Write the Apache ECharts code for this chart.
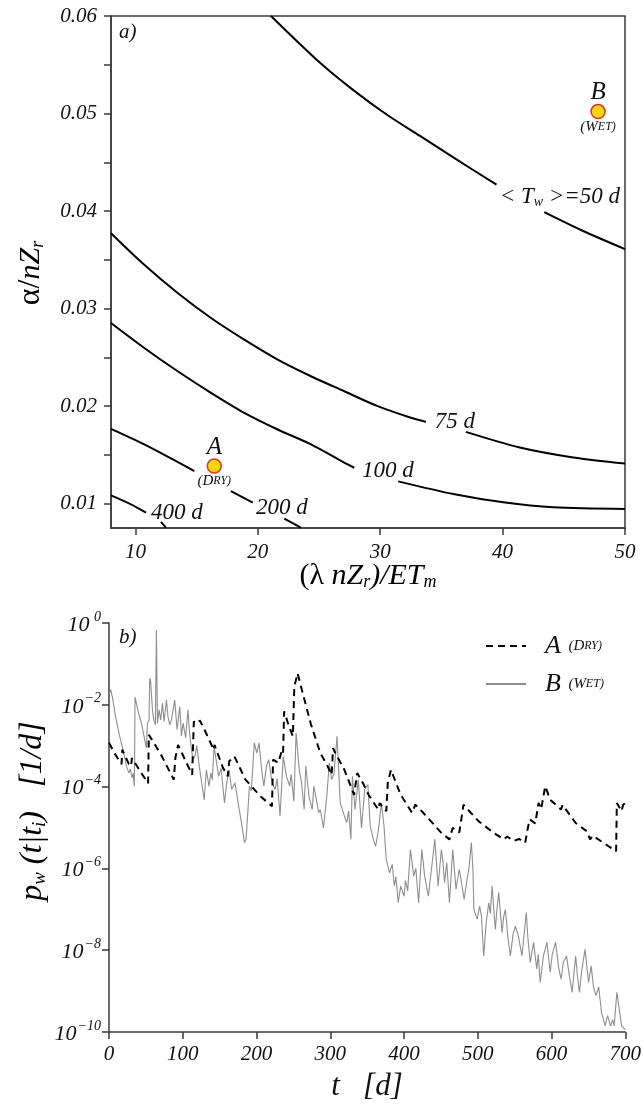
<!DOCTYPE html>
<html><head><meta charset="utf-8">
<script src="https://cdn.jsdelivr.net/npm/echarts@6/dist/echarts.min.js"></script>
<style>html,body{margin:0;padding:0;background:#fff}#c{width:644px;height:1104px}</style>
</head><body><div id="c"></div>
<script>
// ---------- Panel a) data ----------
const xTicksA = [10, 20, 30, 40, 50];
const yLabelsA = [0.01, 0.02, 0.03, 0.04, 0.05, 0.06];
const yTicksA = [0.01, 0.015, 0.02, 0.025, 0.03, 0.035, 0.04, 0.045, 0.05, 0.055, 0.06];
// contour lines of <Tw>, split into segments where labels sit
const contour50 = [
  [[21.07, 0.0600], [25.08, 0.0552], [27.8, 0.0524], [30.52, 0.0499], [33.25, 0.0477], [35.97, 0.0455], [39.5, 0.0427]],
  [[43.4, 0.0399], [46.86, 0.0378], [50.0, 0.0361]]
];
const contour75 = [
  [[8.0, 0.03773], [10.72, 0.03449], [13.45, 0.03159], [16.17, 0.02903], [18.89, 0.02681], [21.62, 0.02477],
   [24.34, 0.02306], [27.06, 0.02152], [29.79, 0.01999], [32.51, 0.0188], [33.74, 0.01838]],
  [[37.0, 0.01736], [41.4, 0.01576], [45.77, 0.01474], [50.0, 0.01412]]
];
const contour100 = [
  [[8.0, 0.02852], [10.72, 0.02596], [13.45, 0.02357], [16.17, 0.02136], [18.89, 0.01931], [21.62, 0.0176],
   [24.34, 0.01607], [27.06, 0.0142], [27.88, 0.01368]],
  [[31.47, 0.01228], [35.97, 0.01098], [40.06, 0.01013], [44.14, 0.00962], [50.0, 0.00945]]
];
const contour200 = [
  [[8.0, 0.01767], [10.72, 0.01607], [14.81, 0.01334]],
  [[17.8, 0.01129], [19.58, 0.0101]],
  [[22.16, 0.00846], [23.52, 0.00754]]
];
const contour400 = [
  [[8.0, 0.01085], [9.63, 0.00993], [10.86, 0.00908]],
  [[12.08, 0.00812], [12.49, 0.00754]]
];
const contourLabels = [
  [44.68, 0.04145, '{t|< T}{s|w}{t| >=50 d}'],
  [36.1, 0.01842, '{t|75 d}'],
  [30.63, 0.01331, '{t|100 d}'],
  [21.97, 0.00959, '{t|200 d}'],
  [13.39, 0.00908, '{t|400 d}']
];
const sitePoints = [
  [16.44, 0.01385, 'A', 'D', 'RY'],
  [47.8, 0.0502, 'B', 'W', 'ET']
];

// ---------- Panel b) data ----------
const xTicksB = [0, 100, 200, 300, 400, 500, 600, 700];
const yTicksB = [1e-10, 1e-8, 1e-6, 1e-4, 1e-2, 1];
// [t (days), log10 p_w]
const logSeriesA = [
  [0, -2.93], [8, -3.2], [17, -3.45], [18, -3.1], [27, -3.45], [30, -3.5], [31, -3.3], [45, -3.7], [53, -3.92],
  [54, -2.73], [70, -3.2], [87.8, -3.83], [90, -3.3], [93.6, -2.98], [112.8, -3.71], [115, -2.41], [121, -2.45],
  [123, -2.38], [128, -2.55], [142, -3.1], [143, -2.98], [154.5, -3.54], [161, -3.75], [163, -3.38], [170, -3.26],
  [185, -3.83], [205.6, -4.24], [221, -4.48], [222.5, -3.34], [229.7, -3.42], [234, -3.14], [236, -3.2],
  [237.5, -2.16], [242.7, -2.45], [249.3, -2.77], [251.3, -1.55], [255.7, -1.23], [260.3, -1.55], [273.4, -2.45],
  [286.5, -3.18], [295.3, -3.46], [301.8, -3.71], [303.9, -3.06], [306, -3.15], [319.2, -3.59], [332.3, -4.2],
  [336.6, -3.67], [345.4, -3.95], [352, -4.2], [365, -4.56], [367, -4.4], [371, -4.5], [376, -4.6], [378, -3.91],
  [382.3, -3.59], [395.5, -4.2], [411, -4.64], [415.3, -4.44], [422, -4.56], [450.7, -5.13], [461.6, -5.29],
  [466, -5.01], [475, -5.12], [480.7, -4.44], [490.5, -4.64], [501.4, -4.85], [521.6, -5.13], [535.1, -5.29],
  [540, -5.22], [548.6, -5.33], [556, -5.28], [564.4, -5.37], [567.5, -5.05], [570.3, -4.8], [578, -4.9],
  [582.4, -4.4], [586, -4.55], [591.5, -3.99], [598.2, -4.32], [613, -4.56], [615, -4.45], [632.8, -4.89],
  [647.8, -5.09], [652.3, -5.29], [656, -5.2], [677.6, -5.46], [687.6, -5.58], [688.6, -4.4], [695, -4.6],
  [697, -4.45], [700, -4.4]
];
const logSeriesB = [
  [0, -1.76], [2.3, -1.63], [4.6, -1.81], [9, -2.3], [14.5, -2.77], [19, -3.1], [23.6, -3.5], [27.1, -3.67], [29, -3.57], [31.2, -3.79],
  [32.6, -3.67], [34.4, -3.99], [35.3, -1.81], [40, -2.2], [44, -2.45], [50.7, -3.06], [52.1, -2.45], [54.3, -2.37],
  [55.2, -1.35], [56.5, -1.43], [58.9, -2.12], [60.7, -2.37], [62.9, -2.49], [64.3, -0.17], [65.7, -2.45],
  [67.9, -2.12], [70.1, -2.37], [72.5, -1.96], [74.6, -2.41], [77.9, -1.88], [80, -2.3], [82.4, -2.49], [84.6, -2.37],
  [89.1, -1.88], [92.3, -2.61], [96, -2.04], [98.2, -2.77], [100.4, -2.45], [104, -2.81], [107, -2.12],
  [109.2, -2.69], [113.6, -3.34], [116.5, -3.26], [119, -3.0], [122.4, -3.5], [129, -4.32], [132, -3.59], [135.5, -3.99],
  [138.2, -3.67], [140, -3.83], [142.5, -3.02], [148.7, -3.75], [152, -3.55], [156.6, -4.4], [159.6, -3.91], [162.8, -3.59],
  [166.2, -4.07], [170.7, -3.91], [177, -4.6], [183.8, -5.37], [185.9, -5.29], [190.4, -3.99], [193, -4.1], [197, -2.93],
  [200.4, -3.18], [203.5, -2.93], [207, -3.6], [210, -3.99], [213.5, -3.5], [216.6, -3.34], [221, -3.9], [225.3, -4.07],
  [228, -3.8], [231.9, -4.72], [236.3, -3.26], [240.6, -3.75], [245, -3.99], [247, -3.7], [250.7, -4.36], [253.7, -2.69], [258, -3.59],
  [261, -3.9], [264.6, -4.56], [266.8, -3.5], [271.2, -4.24], [275.6, -4.56], [277.7, -3.99], [281, -4.3], [284.3, -4.64], [286.5, -4.56],
  [290.8, -5.01], [295.3, -4.24], [298.7, -3.42], [301.8, -3.83], [305, -3.7], [309.2, -2.77], [313.6, -4.4],
  [319.2, -4.72], [322.3, -4.88], [325, -4.6], [328, -5.29], [330.1, -3.75], [333.6, -4.56], [338, -3.83], [342.4, -5.01],
  [346.7, -4.07], [351, -3.95], [354.2, -4.97], [358.5, -5.29], [361.5, -5.46], [365, -5.1], [369.4, -4.4],
  [372.9, -4.97], [375.9, -5.78], [380.4, -6.11], [384, -5.9], [386.9, -6.43], [389, -6.2], [392.2, -6.84], [395.5, -6.43], [400, -6.68],
  [402, -6.3], [405, -6.55], [408.7, -5.54], [413.2, -6.19], [416, -6.0], [419.8, -6.84], [424.2, -5.54], [428, -6.19],
  [433, -6.68], [438, -5.9], [441.8, -5.29], [446.2, -6.43], [450.7, -5.54], [452.9, -5.86], [455, -6.35],
  [458, -5.86], [461.6, -6.84], [466.1, -5.54], [470.5, -6.51], [474.9, -6.02], [478, -6.35], [481.5, -6.76],
  [485.5, -6.27], [488, -6.02], [491.3, -5.37], [493.5, -6.02], [494.7, -7.0], [499.2, -7.24], [502.5, -6.92],
  [505, -7.16], [508.1, -8.14], [511.5, -7.32], [514.9, -6.84], [517, -7.1], [519.5, -6.43], [521.7, -7.0], [523.9, -7.49],
  [526, -7.0], [528.4, -6.59], [533, -7.57], [535, -7.2], [537.4, -7.0], [541, -7.7], [544.2, -8.14], [548, -7.6], [551, -7.41], [555, -7.65], [560, -8.14],
  [565.8, -7.08], [568, -7.7], [571.2, -8.3], [575.7, -7.81], [580, -8.46], [582, -8.1], [584.7, -8.79], [589, -8.14], [593.8, -7.81],
  [598.2, -8.54], [601, -8.1], [605.5, -7.81], [610, -8.46], [613, -8.71], [616, -8.3], [620.4, -8.14], [624, -8.6], [627.9, -9.03], [632.8, -8.14],
  [635, -8.6], [637.9, -9.03], [641, -8.5], [645.4, -7.98], [650.3, -8.79], [653.7, -8.38], [657, -8.9], [660.3, -9.11], [664, -8.9], [667.8, -9.52], [672.7, -9.85],
  [676, -9.6], [680.1, -9.85], [683, -9.7], [685, -9.85], [688.6, -9.03], [695, -9.85], [700, -9.94]
];

// ---------- build ----------
const FONT = "'Liberation Serif', 'DejaVu Serif', serif";
const AX = '#3a3a3a';
const TXT = '#111';
const toPow = arr => arr.map(p => [p[0], Math.pow(10, p[1])]);

const contourSeries = [];
[contour50, contour75, contour100, contour200, contour400].forEach(c => {
  c.forEach(seg => contourSeries.push({
    type: 'line', xAxisIndex: 0, yAxisIndex: 0, data: seg, smooth: 0.3, symbol: 'none',
    lineStyle: { color: '#000', width: 2 }, silent: true, z: 3
  }));
});

const chart = echarts.init(document.getElementById('c'), null, { renderer: 'canvas' });
const option = {
  backgroundColor: '#fff',
  animation: false,
  grid: [
    { left: 111, top: 16, width: 514, height: 512, show: true, borderColor: AX, borderWidth: 1.5, containLabel: false },
    { left: 109, top: 623, width: 520, height: 409, show: false, containLabel: false }
  ],
  xAxis: [
    { gridIndex: 0, type: 'value', min: 8, max: 50,
      axisLine: { show: true, lineStyle: { color: AX, width: 1.5 } },
      axisTick: { show: true, length: 7, lineStyle: { color: AX, width: 1.5 }, customValues: xTicksA },
      axisLabel: { customValues: xTicksA, margin: 14, fontFamily: FONT, fontStyle: 'italic', fontSize: 21, color: TXT },
      splitLine: { show: false } },
    { gridIndex: 1, type: 'value', min: 0, max: 700,
      axisLine: { show: true, onZero: false, lineStyle: { color: AX, width: 1.5 } },
      axisTick: { show: true, length: 7, lineStyle: { color: AX, width: 1.5 }, customValues: xTicksB },
      axisLabel: { customValues: xTicksB, margin: 12, fontFamily: FONT, fontStyle: 'italic', fontSize: 21, color: TXT },
      splitLine: { show: false } }
  ],
  yAxis: [
    { gridIndex: 0, type: 'value', min: 0.0075, max: 0.06,
      axisLine: { show: true, lineStyle: { color: AX, width: 1.5 } },
      axisTick: { show: true, length: 7, lineStyle: { color: AX, width: 1.5 }, customValues: yTicksA },
      axisLabel: { customValues: yLabelsA, margin: 14, fontFamily: FONT, fontStyle: 'italic', fontSize: 21, color: TXT,
        formatter: v => v.toFixed(2) },
      splitLine: { show: false } },
    { gridIndex: 1, type: 'log', logBase: 10, min: 1e-10, max: 1,
      axisLine: { show: true, onZero: false, lineStyle: { color: AX, width: 1.5 } },
      axisTick: { show: true, length: 7, lineStyle: { color: AX, width: 1.5 }, customValues: yTicksB },
      axisLabel: { customValues: yTicksB, margin: 8,
        formatter: v => { const e = Math.round(Math.log10(v)); return '{b|10}{s|' + (e < 0 ? '\u2212' + (-e) : ' ' + e) + '}'; },
        rich: {
          b: { fontFamily: FONT, fontStyle: 'italic', fontSize: 22, color: TXT, lineHeight: 26, verticalAlign: 'bottom' },
          s: { fontFamily: FONT, fontStyle: 'italic', fontSize: 14, color: TXT, lineHeight: 26, verticalAlign: 'top', padding: [0, 0, 12, 1] }
        } },
      splitLine: { show: false } }
  ],
  legend: {
    orient: 'vertical', left: 480, top: 628, itemWidth: 40, itemHeight: 14, itemGap: 12,
    itemStyle: { color: 'rgba(0,0,0,0)', borderWidth: 0, opacity: 0 },
    data: ['A', 'B'],
    formatter: n => n === 'A' ? '{big|A}{sc|  (D}{sm|RY)}' : '{big|B}{sc|  (W}{sm|ET)}',
    textStyle: {
      rich: {
        big: { fontFamily: FONT, fontStyle: 'italic', fontSize: 26, color: TXT, padding: [0, 0, 0, 14] },
        sc: { fontFamily: FONT, fontStyle: 'italic', fontSize: 15, color: TXT },
        sm: { fontFamily: FONT, fontStyle: 'italic', fontSize: 12, color: TXT }
      }
    }
  },
  graphic: [
    { type: 'text', left: 119, top: 22, style: { text: 'a)', font: 'italic 21px ' + FONT, fill: TXT } },
    { type: 'text', left: 119, top: 627, style: { text: 'b)', font: 'italic 21px ' + FONT, fill: TXT } },
    { type: 'text', x: 368, y: 576, style: {
        text: '{u|(\u03bb }{i|nZ}{sub|r}{i|)/ET}{sub|m}', align: 'center', verticalAlign: 'middle',
        rich: {
          u: { fontFamily: FONT, fontSize: 30, color: TXT },
          i: { fontFamily: FONT, fontStyle: 'italic', fontSize: 30, color: TXT },
          sub: { fontFamily: FONT, fontStyle: 'italic', fontSize: 18, color: TXT, verticalAlign: 'bottom', padding: [8, 0, 0, 0] }
        } } },
    { type: 'text', x: 31, y: 273, rotation: Math.PI / 2, style: {
        text: '{u|\u03b1/}{i|nZ}{sub|r}', align: 'center', verticalAlign: 'middle',
        rich: {
          u: { fontFamily: FONT, fontSize: 32, color: TXT },
          i: { fontFamily: FONT, fontStyle: 'italic', fontSize: 30, color: TXT },
          sub: { fontFamily: FONT, fontStyle: 'italic', fontSize: 18, color: TXT, verticalAlign: 'bottom', padding: [8, 0, 0, 0] }
        } } },
    { type: 'text', x: 33, y: 811, rotation: Math.PI / 2, style: {
        text: '{i|p}{sub|w}{i| (t|t}{sub|i}{i|)   [1/d]}', align: 'center', verticalAlign: 'middle',
        rich: {
          i: { fontFamily: FONT, fontStyle: 'italic', fontSize: 32, color: TXT },
          sub: { fontFamily: FONT, fontStyle: 'italic', fontSize: 19, color: TXT, verticalAlign: 'bottom', padding: [8, 0, 0, 0] }
        } } },
    { type: 'text', x: 367, y: 1087, style: {
        text: 't   [d]', align: 'center', verticalAlign: 'middle', font: 'italic 31px ' + FONT, fill: TXT } }
  ],
  series: [
    ...contourSeries,
    { type: 'custom', xAxisIndex: 0, yAxisIndex: 0, silent: true, z: 4, clip: false,
      data: contourLabels.map(d => [d[0], d[1]]),
      renderItem: (params, api) => {
        const p = api.coord([api.value(0), api.value(1)]);
        return { type: 'text', x: p[0], y: p[1], style: {
          text: contourLabels[params.dataIndex][2], align: 'center', verticalAlign: 'middle', fill: TXT,
          rich: {
            t: { font: 'italic 23px ' + FONT, fill: TXT },
            s: { font: 'italic 14px ' + FONT, fill: TXT, verticalAlign: 'bottom', padding: [10, 0, 0, 0] }
          } } };
      } },
    { type: 'scatter', xAxisIndex: 0, yAxisIndex: 0, symbol: 'circle', symbolSize: 14, silent: true, z: 5,
      itemStyle: { color: '#f2d70c', borderColor: '#e2332b', borderWidth: 1.5, opacity: 1 },
      data: sitePoints.map(d => ({ value: [d[0], d[1]], label: { formatter: '{n|' + d[2] + '}\n{g|}\n{c|(' + d[3] + '}{d|' + d[4] + ')}' } })),
      label: { show: true, position: 'inside', offset: [0, -2], color: TXT,
        rich: {
          n: { fontFamily: FONT, fontStyle: 'italic', fontSize: 25, color: TXT, lineHeight: 24, align: 'center' },
          g: { height: 10, lineHeight: 10 },
          c: { fontFamily: FONT, fontStyle: 'italic', fontSize: 15, color: TXT, lineHeight: 24 },
          d: { fontFamily: FONT, fontStyle: 'italic', fontSize: 12, color: TXT, lineHeight: 24 }
        } } },
    { name: 'A', type: 'line', xAxisIndex: 1, yAxisIndex: 1, data: toPow(logSeriesA), symbol: 'none', z: 4,
      lineStyle: { color: '#000', width: 2, type: [7, 5] }, itemStyle: { color: '#000' } },
    { name: 'B', type: 'line', xAxisIndex: 1, yAxisIndex: 1, data: toPow(logSeriesB), symbol: 'none', z: 3,
      lineStyle: { color: '#8e8e8e', width: 1.1 }, itemStyle: { color: '#8e8e8e' } }
  ]
};
chart.setOption(option);
</script>
</body></html>
